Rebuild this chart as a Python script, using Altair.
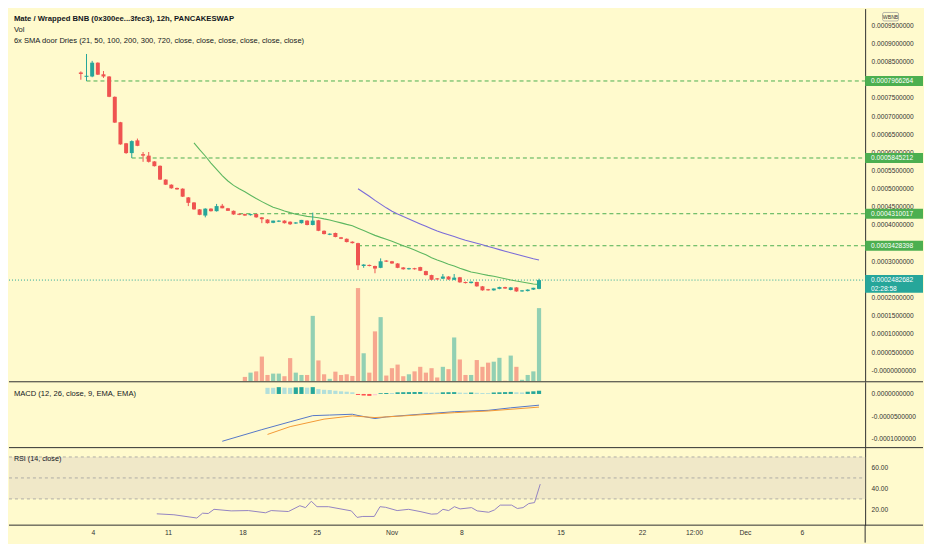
import altair as alt
import pandas as pd

# ---------------- texts ----------------
TITLE = "Mate / Wrapped BNB (0x300ee...3fec3), 12h, PANCAKESWAP"
VOL_LABEL = "Vol"
SMA_LABEL = "6x SMA door Dries (21, 50, 100, 200, 300, 720, close, close, close, close, close, close)"
MACD_LABEL = "MACD (12, 26, close, 9, EMA, EMA)"
RSI_LABEL = "RSI (14, close)"
CURRENCY = "WBNB"
COUNTDOWN = "02:28:58"

# ---------------- candles (price in units of 1e-4 WBNB), bar index 0..81 ----------------
open_e4 = [8.20, 8.08, 8.09, 8.47, 8.15, 8.09, 7.53, 6.83, 6.25, 5.98,
           6.33, 5.95, 5.91, 5.75, 5.63, 5.25, 5.11, 5.02, 5.00, 4.76,
           4.62, 4.43, 4.26, 4.45, 4.38, 4.53, 4.46, 4.39, 4.31, 4.30,
           4.27, 4.30, 4.21, 4.15, 4.06, 4.09, 4.12, 4.09, 4.04, 4.05,
           4.12, 4.00, 4.13, 3.84, 3.73, 3.78, 3.66, 3.62, 3.54, 3.50,
           2.87, 2.90, 2.87, 2.82, 3.02, 3.00, 2.94, 2.83, 2.78, 2.81,
           2.84, 2.73, 2.62, 2.53, 2.52, 2.58, 2.49, 2.56, 2.43, 2.40,
           2.43, 2.31, 2.23, 2.20, 2.24, 2.29, 2.21, 2.28, 2.17, 2.18,
           2.22, 2.24]
high_e4 = [8.23, 8.71, 8.52, 8.48, 8.24, 8.10, 7.54, 6.84, 6.26, 6.33,
           6.38, 6.01, 6.01, 5.76, 5.64, 5.26, 5.12, 5.03, 5.01, 4.77,
           4.63, 4.44, 4.46, 4.46, 4.58, 4.58, 4.47, 4.40, 4.32, 4.31,
           4.31, 4.31, 4.22, 4.16, 4.12, 4.13, 4.13, 4.10, 4.08, 4.14,
           4.13, 4.34, 4.14, 3.85, 3.77, 3.79, 3.67, 3.63, 3.55, 3.51,
           2.92, 2.91, 2.88, 3.08, 3.03, 3.01, 2.95, 2.84, 2.82, 2.82,
           2.85, 2.74, 2.63, 2.54, 2.65, 2.59, 2.65, 2.57, 2.44, 2.44,
           2.44, 2.32, 2.24, 2.25, 2.30, 2.30, 2.29, 2.29, 2.21, 2.23,
           2.27, 2.52]
low_e4 = [8.00, 7.966, 8.07, 8.13, 8.05, 7.52, 6.81, 6.21, 5.96, 5.845,
          6.17, 5.74, 5.72, 5.61, 5.24, 5.10, 5.00, 4.97, 4.77, 4.52,
          4.42, 4.27, 4.21, 4.37, 4.37, 4.46, 4.39, 4.28, 4.27, 4.25,
          4.26, 4.20, 4.05, 4.04, 4.05, 4.08, 4.04, 4.00, 4.03, 4.04,
          3.99, 3.99, 3.83, 3.74, 3.72, 3.66, 3.61, 3.52, 3.49, 2.76,
          2.82, 2.86, 2.67, 2.81, 2.98, 2.93, 2.81, 2.77, 2.77, 2.77,
          2.73, 2.61, 2.48, 2.49, 2.51, 2.49, 2.48, 2.41, 2.39, 2.39,
          2.30, 2.19, 2.19, 2.19, 2.23, 2.24, 2.20, 2.16, 2.16, 2.17,
          2.21, 2.23]
close_e4 = [8.16, 8.11, 8.47, 8.14, 8.09, 7.53, 6.82, 6.22, 5.98, 6.31,
            6.18, 5.91, 5.74, 5.62, 5.25, 5.11, 5.01, 4.98, 4.78, 4.61,
            4.43, 4.28, 4.45, 4.38, 4.52, 4.46, 4.39, 4.29, 4.28, 4.26,
            4.30, 4.21, 4.16, 4.05, 4.12, 4.12, 4.05, 4.02, 4.07, 4.14,
            4.00, 4.12, 3.84, 3.75, 3.76, 3.67, 3.62, 3.53, 3.50, 2.89,
            2.91, 2.87, 2.80, 3.00, 2.99, 2.94, 2.82, 2.78, 2.81, 2.78,
            2.74, 2.62, 2.49, 2.50, 2.58, 2.50, 2.55, 2.42, 2.40, 2.44,
            2.31, 2.20, 2.20, 2.25, 2.29, 2.25, 2.28, 2.17, 2.20, 2.22,
            2.27, 2.482682]

# volume (relative units), bars 29..81
VOL_START = 29
volume = [4.3, 8.7, 10.0, 25.3, 6.3, 7.7, 7.7, 5.0, 23.7, 8.7,
          6.3, 6.3, 67.3, 21.3, 7.0, 2.3, 9.7, 6.3, 7.0, 5.3,
          96.0, 28.7, 8.7, 51.3, 66.0, 5.7, 13.3, 17.0, 5.0, 7.0,
          10.0, 14.7, 8.7, 13.3, 3.7, 14.7, 12.3, 45.0, 22.3, 6.3,
          6.3, 21.7, 14.7, 19.0, 20.0, 24.0, 0.3, 26.3, 14.7, 1.3,
          6.3, 10.0, 75.3]

# moving averages (1e-4 units)
SMA21_START = 20
sma21_e4 = [6.260, 6.075, 5.900, 5.706, 5.533, 5.360, 5.211, 5.090, 4.998, 4.916,
            4.820, 4.727, 4.643, 4.563, 4.491, 4.438, 4.387, 4.340, 4.297, 4.266,
            4.237, 4.222, 4.201, 4.168, 4.139, 4.098, 4.058, 4.017, 3.980, 3.913,
            3.849, 3.781, 3.714, 3.659, 3.608, 3.552, 3.490, 3.430, 3.372, 3.310,
            3.244, 3.178, 3.100, 3.037, 2.981, 2.921, 2.868, 2.810, 2.757, 2.706,
            2.679, 2.645, 2.613, 2.587, 2.553, 2.518, 2.486, 2.455, 2.428, 2.400,
            2.375, 2.363]
SMA50_START = 49
sma50_e4 = [4.997, 4.895, 4.790, 4.677, 4.574, 4.472, 4.380, 4.300, 4.231, 4.168,
            4.097, 4.028, 3.962, 3.897, 3.835, 3.781, 3.729, 3.680, 3.629, 3.581,
            3.538, 3.496, 3.454, 3.409, 3.366, 3.322, 3.278, 3.236, 3.193, 3.151,
            3.110, 3.070, 3.035]

# support levels
levels = [0.0007966264, 0.0005845212, 0.0004310017, 0.0003428398]
level_from = [1, 9, 28, 49]
last_price = 0.0002482682

# MACD (1e-4 units) and histogram (1e-5 units)
macd_idx = [25, 32, 37, 41, 44, 48, 49, 52, 54, 60, 66, 72, 76, 81]
macd_e4 = [-1.054, -0.795, -0.62, -0.483, -0.47, -0.452, -0.48, -0.548, -0.511,
           -0.452, -0.396, -0.365, -0.309, -0.25]
signal_idx = [33, 37, 43, 48, 52, 57, 66, 72, 81]
signal_e4 = [-0.902, -0.728, -0.561, -0.489, -0.526, -0.489, -0.417, -0.38, -0.293]
HIST_START = 33
hist_e5 = [1.37, 1.37, 1.52, 1.41, 1.37, 1.46, 1.52, 1.41, 1.52, 1.09,
           0.93, 0.87, 0.72, 0.59, 0.50, 0.37, -0.22, -0.35, -0.43, -0.30,
           0.17, 0.22, 0.21, 0.37, 0.39, 0.41, 0.43, 0.44, 0.33, 0.28,
           0.26, 0.37, 0.39, 0.41, 0.30, 0.26, 0.33, 0.26, 0.22, 0.20,
           0.33, 0.37, 0.41, 0.46, 0.37, 0.33, 0.50, 0.59, 0.72]

# RSI
rsi_idx = [14, 17, 21, 22, 23, 24, 27, 30, 33, 34, 37, 39, 40, 41, 42, 44, 48, 49, 50, 52,
           53, 54, 56, 58, 60, 62, 63, 64, 65, 66, 67, 69, 70, 72, 73, 74, 76, 77, 78, 79,
           80, 81]
rsi_val = [15.8, 14.9, 11.8, 16.4, 16.1, 20.1, 18.6, 18.9, 16.8, 18.9, 18.0, 23.5, 21.7, 27.8,
           22.6, 22.6, 18.6, 12.4, 13.3, 13.3, 22.6, 22.0, 18.9, 20.1, 18.0, 15.5, 15.8, 20.1,
           18.9, 22.6, 20.5, 21.7, 18.6, 17.3, 19.5, 24.1, 24.1, 20.9, 21.7, 25.6, 26.5, 44.1]
rsi_bands = [70, 50, 30]

# axis ticks (labels hidden behind price badges in the reference are left out)
price_ticks = [0.0, 0.00005, 0.0001, 0.00015, 0.0002, 0.0003, 0.0004,
               0.00045, 0.0005, 0.00055, 0.0006, 0.00065, 0.0007, 0.00075, 0.00085,
               0.0009, 0.00095]
macd_ticks = [0.0, -0.00005, -0.0001]
rsi_ticks = [20, 40, 60]
x_tick_pos = [2.91, 16.06, 29.08, 42.03, 55.12, 67.29, 84.65, 98.87, 107.95, 116.86, 126.8]
x_tick_lab = ["4", "11", "18", "25", "Nov", "8", "15", "22", "12:00", "Dec", "6"]

# ---------------- layout / style ----------------
W = 858
AX = 58
H1, H2, H3 = 373.3, 65.5, 77.7
XAX = 17.5
BG = "#FFFACD"
FONT = "Liberation Sans"
UP, DOWN = "#26A69A", "#EF5350"
LINE = "#2f2f2f"
TXT = "#131722"

xs = alt.Scale(domain=[-11.82, 137.77], nice=False, zero=False)
ps = alt.Scale(domain=[-2.99e-5, 9.96e-4], nice=False, zero=False)
vs = alt.Scale(domain=[0, 384.5], nice=False, zero=True)
ms = alt.Scale(domain=[-1.1848e-4, 2.717e-5], nice=False, zero=False)
rs = alt.Scale(domain=[5.0, 78.9], nice=False, zero=False)

axis_common = dict(orient="right", title=None, grid=False, ticks=False, domain=True,
                   domainColor=LINE, domainWidth=1, labelFontSize=6.6, labelColor="#333333",
                   labelPadding=6, labelFont=FONT, labelOverlap=False)
price_axis = alt.Axis(values=price_ticks,
                      labelExpr="datum.value == 0 ? '-0.0000000000' : format(datum.value, '.10f')",
                      **axis_common)
macd_axis = alt.Axis(values=macd_ticks,
                     labelExpr="replace(format(datum.value, '.10f'), '\u2212', '-')",
                     **axis_common)
rsi_axis = alt.Axis(values=rsi_ticks, format=".2f", **axis_common)

one = pd.DataFrame({"k": [0]})


def text_at(s, x, y, size=7.4, weight="normal", color=TXT, align="left"):
    return alt.Chart(pd.DataFrame({"t": [s]})).mark_text(
        align=align, baseline="middle", fontSize=size, fontWeight=weight, font=FONT, color=color
    ).encode(x=alt.value(x), y=alt.value(y), text="t:N")


# ---------------- tables ----------------
n = len(open_e4)
candles = pd.DataFrame({
    "i": list(range(n)),
    "open": [v * 1e-4 for v in open_e4],
    "high": [v * 1e-4 for v in high_e4],
    "low": [v * 1e-4 for v in low_e4],
    "close": [v * 1e-4 for v in close_e4],
})
candles["col"] = [UP if c >= o else DOWN for o, c in zip(open_e4, close_e4)]

vol = pd.DataFrame({"i": list(range(VOL_START, VOL_START + len(volume))), "vol": volume})
vol["col"] = [candles["col"][k] for k in vol["i"]]

sma21 = pd.DataFrame({"i": list(range(SMA21_START, SMA21_START + len(sma21_e4))),
                      "v": [v * 1e-4 for v in sma21_e4]})
sma50 = pd.DataFrame({"i": list(range(SMA50_START, SMA50_START + len(sma50_e4))),
                      "v": [v * 1e-4 for v in sma50_e4]})

lv = pd.DataFrame({"level": levels, "from": level_from,
                   "label": [f"{v:.10f}" for v in levels]})
lastdf = pd.DataFrame({"level": [last_price], "label": [f"{last_price:.10f}"],
                       "cd": [COUNTDOWN]})

macd = pd.DataFrame({"i": macd_idx, "v": [v * 1e-4 for v in macd_e4]})
sig = pd.DataFrame({"i": signal_idx, "v": [v * 1e-4 for v in signal_e4]})
hv = [v * 1e-5 for v in hist_e5]
hcols = []
prev = None
for v in hv:
    p = v if prev is None else prev
    if v >= 0:
        hcols.append("#26A69A" if v > p else "#B2DFDB")
    else:
        hcols.append("#FFCDD2" if v > p else "#FF5252")
    prev = v
hist = pd.DataFrame({"i": list(range(HIST_START, HIST_START + len(hv))), "h": hv, "col": hcols})

rsi = pd.DataFrame({"i": rsi_idx, "v": rsi_val})
bands = pd.DataFrame({"b": rsi_bands})
band_fill = pd.DataFrame({"hi": [max(rsi_bands)], "lo": [min(rsi_bands)]})
xt = pd.DataFrame({"pos": x_tick_pos, "lab": x_tick_lab})

X = alt.X("i:Q", scale=xs, axis=None)

# ---------------- main pane ----------------
vol_layer = alt.Chart(vol).mark_bar(size=4.2, opacity=0.5).encode(
    x=X, y=alt.Y("vol:Q", scale=vs, axis=None), color=alt.Color("col:N", scale=None))

PY = lambda f: alt.Y(f, scale=ps, axis=price_axis)

last_line = alt.Chart(lastdf).mark_rule(color=UP, strokeDash=[1, 2], strokeWidth=1).encode(
    x=alt.value(0), x2=alt.value(W), y=PY("level:Q"))
sup_lines = alt.Chart(lv).mark_rule(color="#4CAF50", strokeDash=[4, 3], strokeWidth=1).encode(
    x=alt.X("from:Q", scale=xs, axis=None), x2=alt.value(W), y=PY("level:Q"))
sma21_line = alt.Chart(sma21).mark_line(color="#5DB760", strokeWidth=1.1).encode(x=X, y=PY("v:Q"))
sma50_line = alt.Chart(sma50).mark_line(color="#7B6CD9", strokeWidth=1.1).encode(x=X, y=PY("v:Q"))
wicks = alt.Chart(candles).mark_rule(strokeWidth=1).encode(
    x=X, y=PY("low:Q"), y2="high:Q", color=alt.Color("col:N", scale=None))
bodies = alt.Chart(candles).mark_bar(size=4).encode(
    x=X, y=PY("open:Q"), y2="close:Q", color=alt.Color("col:N", scale=None))
badges = alt.Chart(lv).mark_rect(color="#4CAF50", yOffset=-5, y2Offset=5).encode(
    x=alt.value(W), x2=alt.value(W + AX), y=PY("level:Q"), y2="level:Q")
badge_txt = alt.Chart(lv).mark_text(align="left", baseline="middle", color="white",
                                    fontSize=6.6, font=FONT).encode(
    x=alt.value(W + 6), y=PY("level:Q"), text="label:N")
last_badge = alt.Chart(lastdf).mark_rect(color=UP, yOffset=-5.2, y2Offset=12.6).encode(
    x=alt.value(W), x2=alt.value(W + AX), y=PY("level:Q"), y2="level:Q")
last_txt = alt.Chart(lastdf).mark_text(align="left", baseline="middle", color="white",
                                       fontSize=6.6, font=FONT).encode(
    x=alt.value(W + 6), y=PY("level:Q"), text="label:N")
last_cd = alt.Chart(lastdf).mark_text(align="left", baseline="middle", color="white",
                                      fontSize=6.6, font=FONT, dy=8.7).encode(
    x=alt.value(W + 6), y=PY("level:Q"), text="cd:N")
cur_box = alt.Chart(one).mark_rect(fill=BG, stroke="#9a9a9a", strokeWidth=0.7,
                                   cornerRadius=1.5).encode(
    x=alt.value(W + 17.5), x2=alt.value(W + 33.5), y=alt.value(3.9), y2=alt.value(12.4))
cur_txt = text_at(CURRENCY, W + 25.5, 8.3, size=5.2, color="#333333", align="center")

price_group = alt.layer(
    last_line, sup_lines, sma21_line, sma50_line, wicks, bodies,
    badges, badge_txt, last_badge, last_txt, last_cd, cur_box, cur_txt,
    text_at(TITLE, 4.9, 10.7, size=7.7, weight="bold"),
    text_at(VOL_LABEL, 4.9, 21.4, size=7.6),
    text_at(SMA_LABEL, 4.9, 32.0, size=7.6),
)
main = alt.layer(vol_layer, price_group).resolve_scale(y="independent").properties(
    width=W, height=H1)

# ---------------- MACD pane ----------------
MY = lambda f: alt.Y(f, scale=ms, axis=macd_axis)
sep2 = alt.Chart(one).mark_rule(color=LINE, strokeWidth=1).encode(
    x=alt.value(0), x2=alt.value(W + AX), y=alt.value(0))
hist_bars = alt.Chart(hist).mark_bar(size=4.2).encode(
    x=X, y=MY("h:Q"), color=alt.Color("col:N", scale=None))
macd_line = alt.Chart(macd).mark_line(color="#5577C8", strokeWidth=1).encode(x=X, y=MY("v:Q"))
sig_line = alt.Chart(sig).mark_line(color="#F39A36", strokeWidth=1).encode(x=X, y=MY("v:Q"))
macd_pane = alt.layer(hist_bars, macd_line, sig_line, sep2,
                      text_at(MACD_LABEL, 4.9, 12.3, size=7.6)).properties(width=W, height=H2)

# ---------------- RSI pane ----------------
RY = lambda f: alt.Y(f, scale=rs, axis=rsi_axis)
band = alt.Chart(band_fill).mark_rect(color="#F0E8C8").encode(
    x=alt.value(0), x2=alt.value(W), y=RY("hi:Q"), y2="lo:Q")
band_lines = alt.Chart(bands).mark_rule(color="#9e9e9e", strokeDash=[3, 3], strokeWidth=0.8).encode(
    x=alt.value(0), x2=alt.value(W), y=RY("b:Q"))
rsi_line = alt.Chart(rsi).mark_line(color="#9484C2", strokeWidth=1).encode(x=X, y=RY("v:Q"))
sep3 = alt.Chart(one).mark_rule(color=LINE, strokeWidth=1).encode(
    x=alt.value(0), x2=alt.value(W + AX), y=alt.value(0))
sep4 = alt.Chart(one).mark_rule(color=LINE, strokeWidth=1).encode(
    x=alt.value(0), x2=alt.value(W + AX), y=alt.value(H3))
vline = alt.Chart(one).mark_rule(color=LINE, strokeWidth=1).encode(
    x=alt.value(W), y=alt.value(H3), y2=alt.value(H3 + XAX))
xlabels = alt.Chart(xt).mark_text(baseline="middle", fontSize=6.8, font=FONT, color="#333333").encode(
    x=alt.X("pos:Q", scale=xs, axis=None), y=alt.value(H3 + 7.8), text="lab:N")
rsi_pane = alt.layer(band, band_lines, rsi_line, sep3, sep4, vline, xlabels,
                     text_at(RSI_LABEL, 4.9, 11.9, size=7.2)).properties(width=W, height=H3)

chart = alt.vconcat(main, macd_pane, rsi_pane, spacing=0, bounds="flush").properties(
    padding=0, background=BG
).configure_view(stroke=None).configure_concat(spacing=0)

chart.save("out.html", embed_options={"renderer": "svg", "actions": False})
